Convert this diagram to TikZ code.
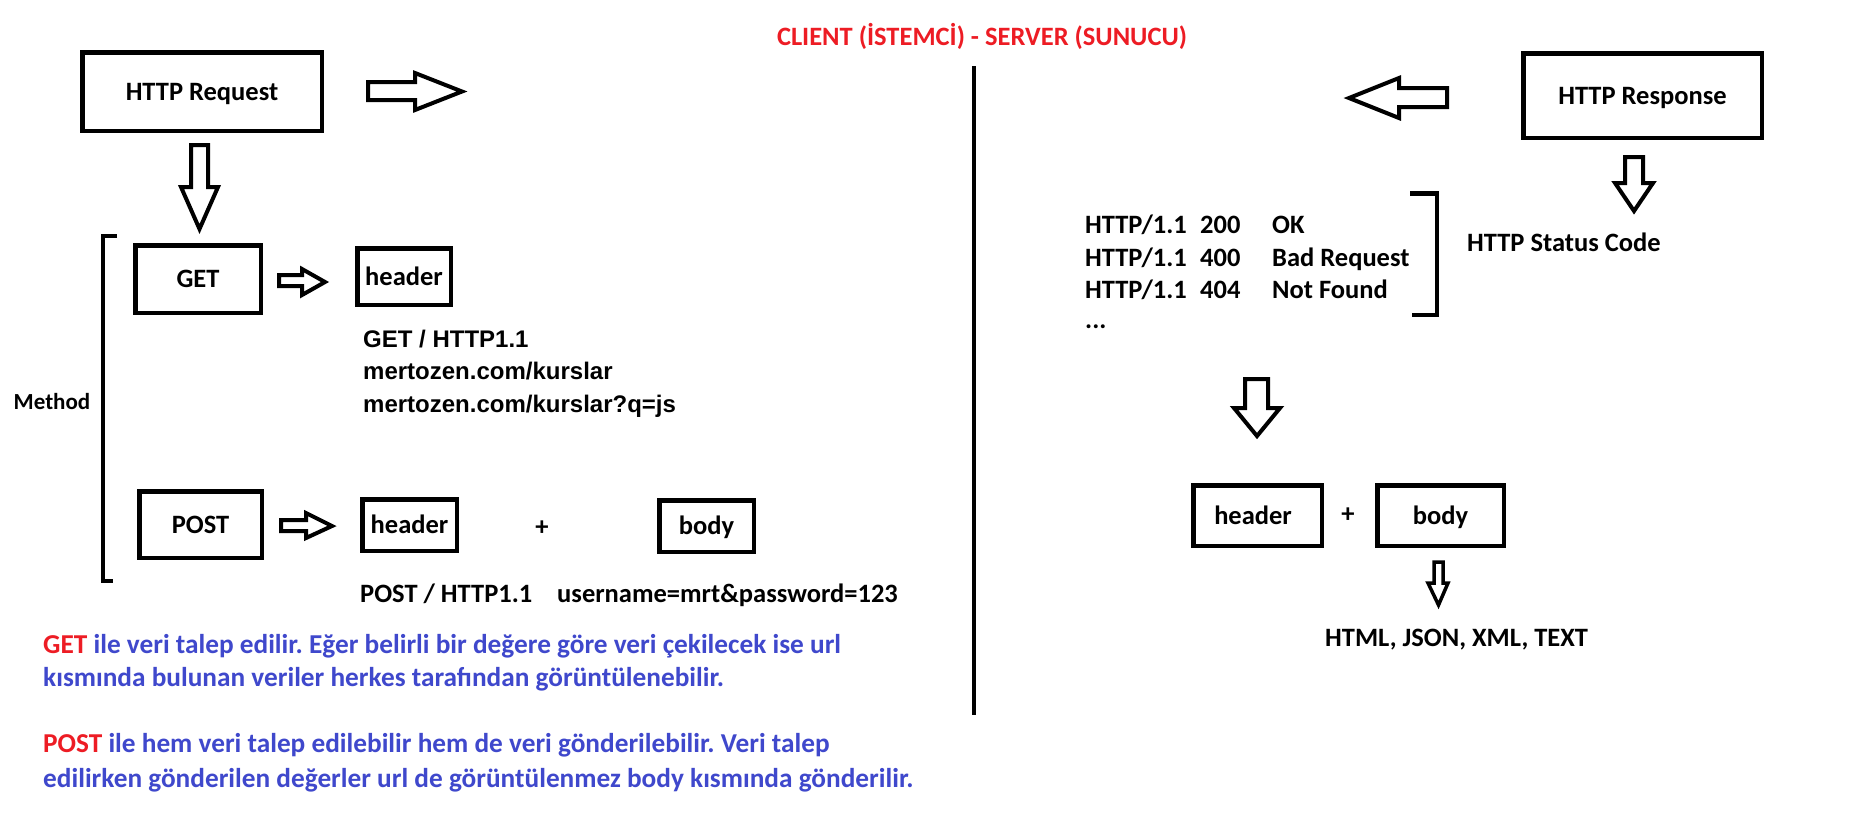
\documentclass[tikz,border=0pt]{standalone}
\usepackage{fontspec}
\newfontfamily\calfont{Carlito}
\newfontfamily\tahfont{Liberation Sans}
\definecolor{pred}{HTML}{ED1C24}
\definecolor{pblue}{HTML}{3F48CC}
\newcommand\mfont{\calfont\bfseries\fontsize{26.5}{32}\selectfont}
\newcommand\tfont{\tahfont\bfseries\fontsize{24}{29}\selectfont}
\newcommand\pfont{\calfont\bfseries\fontsize{27.3}{33}\selectfont}
\frenchspacing
\begin{document}
\begin{tikzpicture}[x=1pt,y=-1pt,
  box/.style={draw, line width=4.5pt, inner sep=0pt, font=\mfont, text height=17pt, text depth=0pt},
  blk/.style={draw, line width=4pt, line join=miter, miter limit=10},
  lbl/.style={inner sep=0pt, anchor=base west, font=\mfont},
  tlbl/.style={inner sep=0pt, anchor=base west, font=\tfont},
  para/.style={inner sep=0pt, anchor=base west, font=\pfont, text=pblue},
  brk/.style={draw, line width=4.5pt}]
\useasboundingbox[fill=white] (0,0) rectangle (1862,815);

% title
\node[inner sep=0pt, anchor=base, font=\mfont, text=pred] (title) at (982,45.5) {CLIENT (İSTEMCİ) - SERVER (SUNUCU)};

% divider
\draw[line width=4.5pt] (974,66) -- (974,715);

% boxes
\node[box, minimum width=239.5pt, minimum height=78.5pt] (req) at (202,91.5) {HTTP Request};
\node[box, minimum width=125.5pt, minimum height=67.5pt] (get) at (198,279) {GET};
\node[box, minimum width=93.5pt, minimum height=56.5pt] (gethdr) at (404,276.5) {header};
\node[box, minimum width=122.5pt, minimum height=66.5pt] (post) at (200.5,524.5) {POST};
\node[box, minimum width=94.5pt, minimum height=51.5pt] (posthdr) at (409.5,525) {header};
\node[box, minimum width=94.5pt, minimum height=51.5pt] (postbody) at (706.5,526) {body};
\node[box, minimum width=238.5pt, minimum height=84.5pt] (resp) at (1642.5,95.5) {HTTP Response};
\node[box, minimum width=128.5pt, minimum height=60.5pt, text width=128.5pt, align=left] (rhdr) at (1257.5,515.5) {\hspace*{21pt}header};
\node[box, minimum width=126.5pt, minimum height=60.5pt] (rbody) at (1440.5,515.5) {body};

% block arrows
\draw[blk] (368,82) -- (415,82) -- (415,73) -- (462,91.5) -- (415,110) -- (415,100) -- (368,100) -- cycle;
\draw[blk] (191,145) -- (208,145) -- (208,187) -- (218,187) -- (199.5,229) -- (181,187) -- (191,187) -- cycle;
\draw[blk] (279,275) -- (302,275) -- (302,269) -- (325,282) -- (302,295) -- (302,286) -- (279,286) -- cycle;
\draw[blk] (281,520) -- (306,520) -- (306,513) -- (332,526) -- (306,538) -- (306,531) -- (281,531) -- cycle;
\draw[blk] (1349,98) -- (1399,78) -- (1399,88) -- (1447,88) -- (1447,107) -- (1399,107) -- (1399,118) -- cycle;
\draw[blk] (1625,157) -- (1643,157) -- (1643,183) -- (1653,183) -- (1634,211) -- (1615,183) -- (1625,183) -- cycle;
\draw[blk] (1245,379) -- (1268,379) -- (1268,408) -- (1280,408) -- (1257,436) -- (1234,408) -- (1245,408) -- cycle;
\draw[blk, line width=3.5pt] (1434,562) -- (1443,562) -- (1443,583) -- (1448,583) -- (1438.5,605) -- (1428,583) -- (1434,583) -- cycle;

% brackets
\draw[brk] (117,236) -- (103,236) -- (103,581) -- (113,581);
\draw[brk] (1410,193.5) -- (1437,193.5) -- (1437,315) -- (1412,315);

% left labels
\node[inner sep=0pt, font=\calfont\bfseries\fontsize{23}{28}\selectfont] (method) at (52,402) {Method};
\node[tlbl] (g1) at (363,347) {GET / HTTP1.1};
\node[tlbl] (g2) at (363,379.5) {mertozen.com/kurslar};
\node[tlbl] (g3) at (363,412) {mertozen.com/kurslar?q=js};
\node[inner sep=0pt, font=\mfont] (plus1) at (542,528) {+};
\node[lbl] (p0) at (360,602) {POST / HTTP1.1};
\node[lbl] (pu) at (557,602) {username=mrt\&password=123};

% right labels
\node[lbl] (s1a) at (1085,233.5) {HTTP/1.1};
\node[lbl] (s1b) at (1200,233.5) {200};
\node[lbl] (s1c) at (1272,233.5) {OK};
\node[lbl] (s2a) at (1085,266.5) {HTTP/1.1};
\node[lbl] (s2b) at (1200,266.5) {400};
\node[lbl] (s2c) at (1272,266.5) {Bad Request};
\node[lbl] (s3a) at (1085,298.5) {HTTP/1.1};
\node[lbl] (s3b) at (1200,298.5) {404};
\node[lbl] (s3c) at (1272,298.5) {Not Found};
\node[lbl] (s4a) at (1085,328) {...};
\node[lbl] (stat) at (1467,251) {HTTP Status Code};
\node[inner sep=0pt, font=\mfont] (plus2) at (1348,515) {+};
\node[lbl] (fmt) at (1325,646) {HTML, JSON, XML, TEXT};

% paragraph
\node[para] (pa1) at (43,653) {\textcolor{pred}{GET} ile veri talep edilir. Eğer belirli bir değere göre veri çekilecek ise url};
\node[para] (pa2) at (43,686) {kısmında bulunan veriler herkes tarafından görüntülenebilir.};
\node[para] (pa3) at (43,752) {\textcolor{pred}{POST} ile hem veri talep edilebilir hem de veri gönderilebilir. Veri talep};
\node[para] (pa4) at (43,787) {edilirken gönderilen değerler url de görüntülenmez body kısmında gönderilir.};
\end{tikzpicture}
\end{document}
